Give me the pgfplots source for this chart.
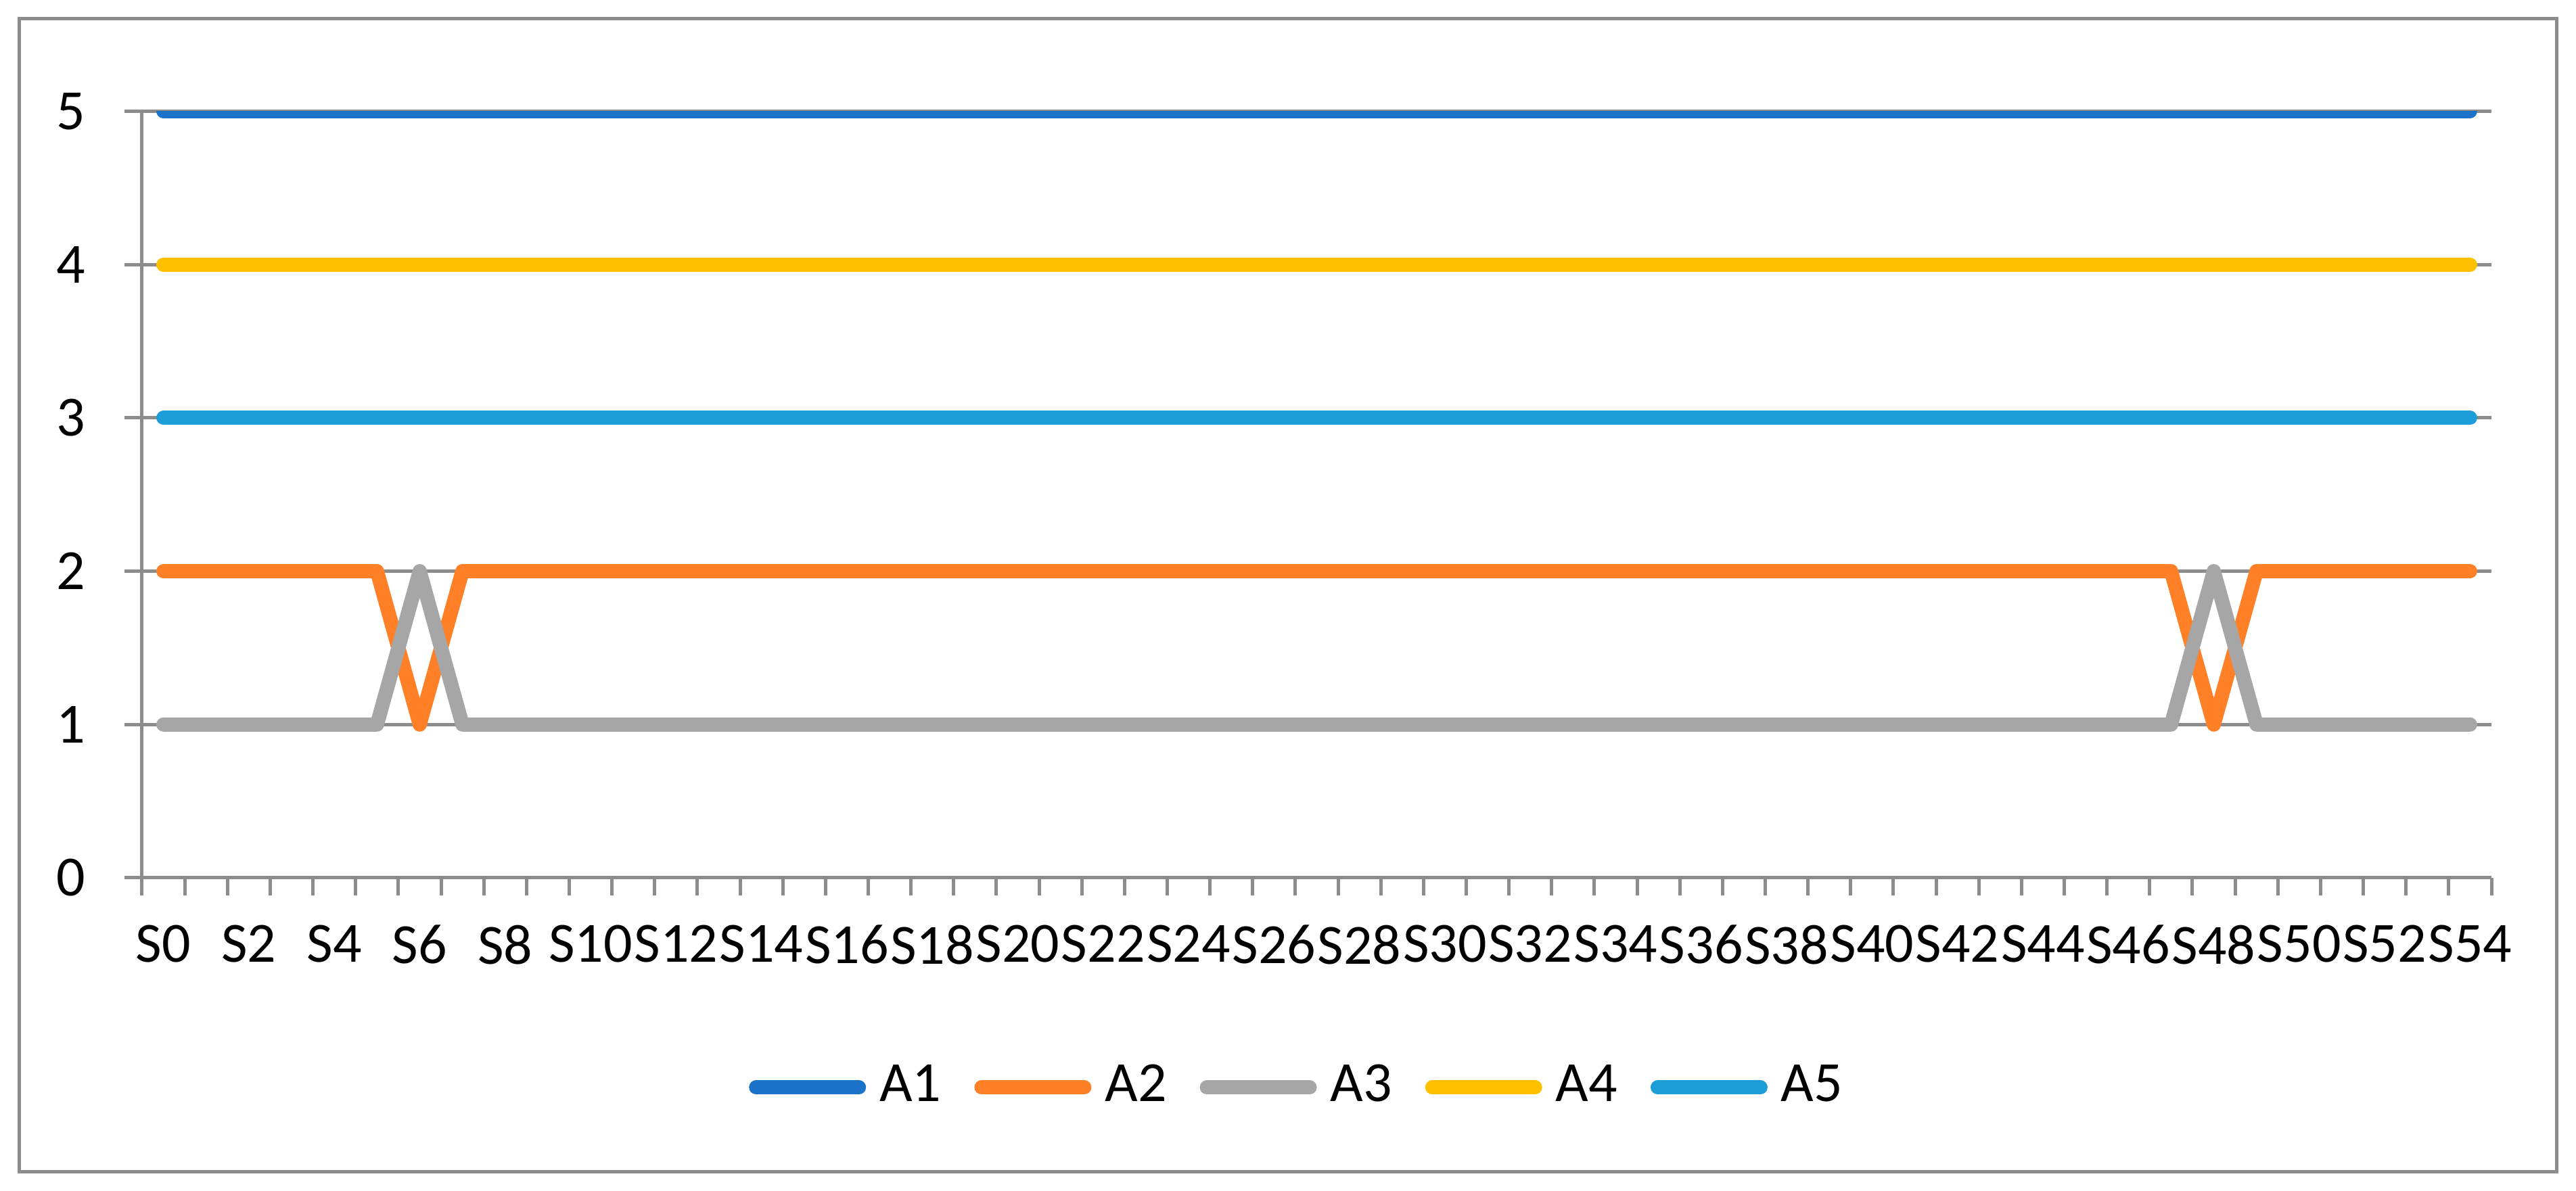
\documentclass[border=0pt]{standalone}
\usepackage{pgfplots}
\pgfplotsset{compat=1.18}
\usepackage{pgfplotstable}
\usepackage{fontspec}
\setmainfont{Carlito}
\definecolor{cA}{RGB}{26,115,200}
\definecolor{cB}{RGB}{255,128,38}
\definecolor{cC}{RGB}{166,166,166}
\definecolor{cD}{RGB}{255,192,0}
\definecolor{cE}{RGB}{30,158,216}
\definecolor{gridgray}{RGB}{140,140,140}
\pgfplotstableread{
x A1 A2 A3 A4 A5
0 5 2 1 4 3
1 5 2 1 4 3
2 5 2 1 4 3
3 5 2 1 4 3
4 5 2 1 4 3
5 5 2 1 4 3
6 5 1 2 4 3
7 5 2 1 4 3
8 5 2 1 4 3
9 5 2 1 4 3
10 5 2 1 4 3
11 5 2 1 4 3
12 5 2 1 4 3
13 5 2 1 4 3
14 5 2 1 4 3
15 5 2 1 4 3
16 5 2 1 4 3
17 5 2 1 4 3
18 5 2 1 4 3
19 5 2 1 4 3
20 5 2 1 4 3
21 5 2 1 4 3
22 5 2 1 4 3
23 5 2 1 4 3
24 5 2 1 4 3
25 5 2 1 4 3
26 5 2 1 4 3
27 5 2 1 4 3
28 5 2 1 4 3
29 5 2 1 4 3
30 5 2 1 4 3
31 5 2 1 4 3
32 5 2 1 4 3
33 5 2 1 4 3
34 5 2 1 4 3
35 5 2 1 4 3
36 5 2 1 4 3
37 5 2 1 4 3
38 5 2 1 4 3
39 5 2 1 4 3
40 5 2 1 4 3
41 5 2 1 4 3
42 5 2 1 4 3
43 5 2 1 4 3
44 5 2 1 4 3
45 5 2 1 4 3
46 5 2 1 4 3
47 5 2 1 4 3
48 5 1 2 4 3
49 5 2 1 4 3
50 5 2 1 4 3
51 5 2 1 4 3
52 5 2 1 4 3
53 5 2 1 4 3
54 5 2 1 4 3
}\datatable
\begin{document}
\fontsize{8.4}{10}\selectfont
\begin{tikzpicture}
\path[use as bounding box] (0,0) rectangle (380.8pt,176.1pt);
\draw[gridgray, line width=0.5pt] (2.8pt,2.8pt) rectangle (377.9pt,173.3pt);
\begin{axis}[
  scale only axis,
  width=347.3pt, height=113.35pt,
  at={(21pt,46.3pt)}, anchor=south west,
  xmin=-0.5, xmax=54.5, ymin=0, ymax=5,
  axis lines=left,
  axis line style={draw=gridgray, line width=0.5pt, -},
  ytick={0,1,2,3,4,5},
  xtick={0,2,...,54},
  xticklabels={S0,S2,S4,S6,S8,S10,S12,S14,S16,S18,S20,S22,S24,S26,S28,S30,S32,S34,S36,S38,S40,S42,S44,S46,S48,S50,S52,S54},
  minor xtick={-0.5,0.5,...,54.5},
  tick align=outside,
  major tick length=2.6pt,
  minor tick length=2.6pt,
  tick style={draw=gridgray, line width=0.5pt},
  major x tick style={draw=none},
  ymajorgrids,
  grid style={draw=gridgray, line width=0.5pt},
  /pgf/number format/assume math mode=true,
  ticklabel style={font=\fontsize{8.4}{10}\selectfont},
  xticklabel style={inner sep=0pt, anchor=north, yshift=-4.2pt},
  yticklabel style={inner sep=0pt, anchor=east, xshift=-5.6pt},
  legend columns=5,
  legend style={draw=none, fill=none, at={(0.494,-0.2735)}, anchor=center,
    font=\fontsize{8.4}{10}\selectfont,
    /tikz/every even column/.append style={column sep=2.9pt},
    /tikz/every odd column/.append style={column sep=0pt}},
  legend image code/.code={\draw[#1] (0pt,0pt) -- (15.2pt,0pt);},
  every axis plot/.append style={line width=2.1pt, line cap=round, line join=round},
]
\addplot[cA] table[x=x, y=A1] {\datatable};
\addlegendentry{A1}
\addplot[cB] table[x=x, y=A2] {\datatable};
\addlegendentry{A2}
\addplot[cC] table[x=x, y=A3] {\datatable};
\addlegendentry{A3}
\addplot[cD] table[x=x, y=A4] {\datatable};
\addlegendentry{A4}
\addplot[cE] table[x=x, y=A5] {\datatable};
\addlegendentry{A5}
\end{axis}
\end{tikzpicture}
\end{document}
